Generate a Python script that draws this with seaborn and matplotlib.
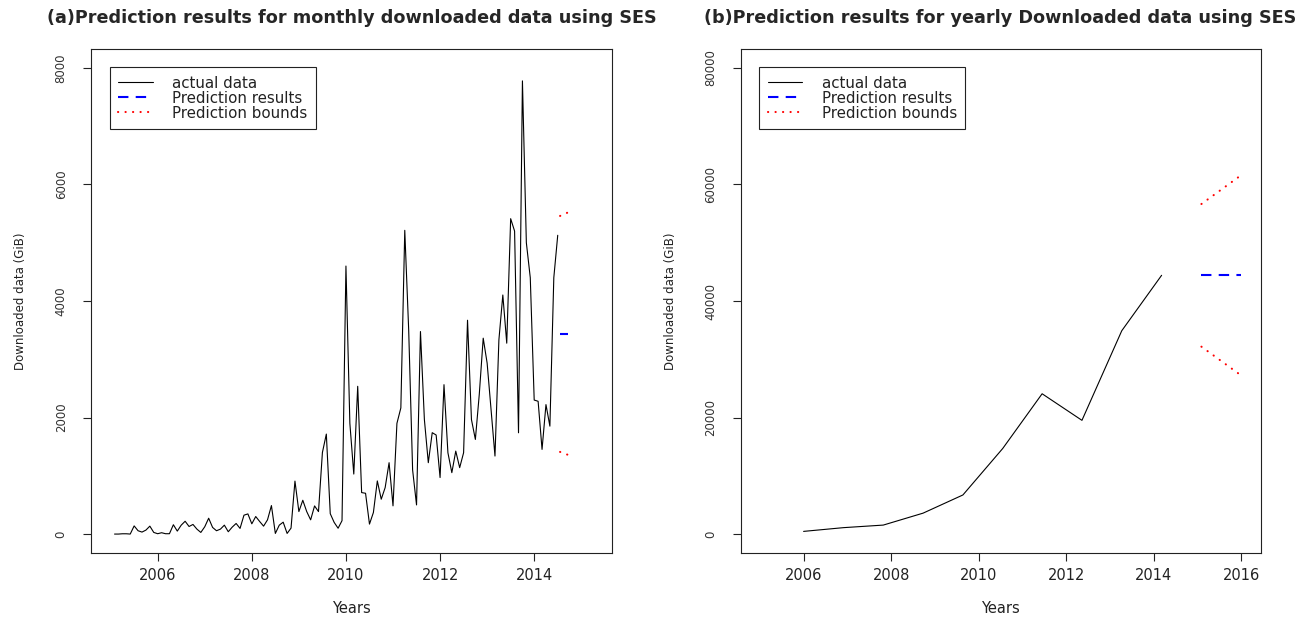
"""
SES prediction results: monthly (a) and yearly (b) downloaded data
"""
import matplotlib
matplotlib.use('Agg')
import matplotlib.pyplot as plt
import numpy as np
import pandas as pd
import seaborn as sns

sns.set_style('ticks')
plt.rcParams['font.family'] = ['DejaVu Sans']
plt.rcParams['axes.linewidth'] = 0.8

# ============================================================
# data
# ============================================================

# monthly downloaded data (GiB), Feb 2005 - Jul 2014
month_values = [
    0, 0, 5, 5, 0, 140, 57, 34, 68, 136, 28, 6,
    23, 6, 6, 160, 51, 153, 220, 130, 165, 85, 28, 125,
    272, 114, 57, 85, 153, 40, 119, 182, 97, 324, 346, 176,
    301, 216, 136, 244, 489, 11, 153, 204, 11, 102, 909, 386,
    580, 386, 244, 483, 386, 1400, 1716, 350, 200, 100, 230, 4600,
    1900, 1030, 2536, 712, 700, 171, 370, 912, 598, 798, 1225, 484,
    1900, 2165, 5213, 3500, 1100, 500, 3476, 1966, 1225, 1740, 1700, 970,
    2564, 1396, 1054, 1424, 1140, 1396, 3670, 1966, 1624, 2400, 3362, 2934,
    2137, 1339, 3333, 4103, 3276, 5413, 5200, 1738, 7778, 5000, 4400, 2300,
    2279, 1453, 2222, 1852, 4400, 5128,
]
month_years = 2005 + (1 + np.arange(len(month_values))) / 12

month_fc_years = [2014.55, 2014.633, 2014.717]
month_fc_mean = [3435, 3435, 3435]
month_fc_upper = [5460, 5490, 5520]
month_fc_lower = [1410, 1385, 1360]

# yearly downloaded data (GiB)
year_x = [2006.00, 2006.91, 2007.82, 2008.73, 2009.64,
          2010.55, 2011.45, 2012.36, 2013.27, 2014.18]
year_values = [460, 1100, 1540, 3590, 6710, 14690, 24080, 19520, 34900, 44410]

year_fc_x = [2015.09, 2016.00]
year_fc_mean = [44410, 44410]
year_fc_upper = [56650, 61610]
year_fc_lower = [32160, 27210]

legend_labels = ['actual data', 'Prediction results', 'Prediction bounds']


def pad_lim(lo, hi):
    # R style: 4% extension on each side
    d = (hi - lo) * 0.04
    return lo - d, hi + d


def draw_panel(ax, x, y, fx, fmean, fup, flow, title, xlim, xticks, ylim, yticks):
    actual = pd.DataFrame({'year': x, 'value': y})
    sns.lineplot(data=actual, x='year', y='value', ax=ax, color='black', linewidth=0.8)
    sns.lineplot(x=fx, y=fmean, ax=ax, color='#0000FF', linewidth=1.5,
                 linestyle=(0, (5, 3.5)))
    sns.lineplot(x=fx, y=fup, ax=ax, color='#FF0000', linewidth=1.5,
                 linestyle=(0, (0.1, 3.5)), dash_capstyle='round')
    sns.lineplot(x=fx, y=flow, ax=ax, color='#FF0000', linewidth=1.5,
                 linestyle=(0, (0.1, 3.5)), dash_capstyle='round')

    ax.set_xlim(*pad_lim(*xlim))
    ax.set_ylim(*pad_lim(*ylim))
    ax.set_xticks(xticks)
    ax.set_yticks(yticks)
    ax.set_xticklabels([str(t) for t in xticks], fontsize=10.5, color='#222222')
    ax.set_yticklabels([str(t) for t in yticks], fontsize=8.5, color='#333333',
                       rotation=90, va='center')
    ax.tick_params(axis='both', length=6, width=0.8, color='#222222')
    ax.tick_params(axis='x', pad=5)
    ax.tick_params(axis='y', pad=11)

    for side in ['top', 'right', 'bottom', 'left']:
        ax.spines[side].set_visible(True)
        ax.spines[side].set_color('#222222')

    ax.set_xlabel('Years', fontsize=10.5, color='#222222', va='center')
    ax.xaxis.set_label_coords(0.5, -0.11)
    ax.set_ylabel('Downloaded data (GiB)', fontsize=8.5, color='#222222', va='center')
    ax.yaxis.set_label_coords(-0.135, 0.5)

    ax.set_title(title, fontsize=12.7, fontweight='bold', y=1.062, va='center', pad=0)

    lines = ax.get_lines()
    leg = ax.legend(handles=[lines[0], lines[1], lines[2]], labels=legend_labels,
                    loc='upper left', bbox_to_anchor=(0.036, 0.964), borderaxespad=0,
                    fontsize=10.8, frameon=True, fancybox=False, framealpha=1,
                    edgecolor='#222222', handlelength=2.3, handletextpad=1.3,
                    labelspacing=0.0, borderpad=0.55)
    leg.get_frame().set_linewidth(0.8)
    for t in leg.get_texts():
        t.set_color('#222222')


fig = plt.figure(figsize=(13.14, 6.17), dpi=100)
ax1 = fig.add_axes([0.0695, 0.1042, 0.3965, 0.8159])
ax2 = fig.add_axes([0.5636, 0.1042, 0.3957, 0.8159])

draw_panel(ax1, month_years, month_values, month_fc_years, month_fc_mean,
           month_fc_upper, month_fc_lower,
           '(a)Prediction results for monthly downloaded data using SES',
           (2005, 2015.25), [2006, 2008, 2010, 2012, 2014],
           (0, 8000), [0, 2000, 4000, 6000, 8000])

draw_panel(ax2, year_x, year_values, year_fc_x, year_fc_mean,
           year_fc_upper, year_fc_lower,
           '(b)Prediction results for yearly Downloaded data using SES',
           (2005, 2016), [2006, 2008, 2010, 2012, 2014, 2016],
           (0, 80000), [0, 20000, 40000, 60000, 80000])

fig.savefig('out.png', dpi=100)
print('Saved: out.png')
